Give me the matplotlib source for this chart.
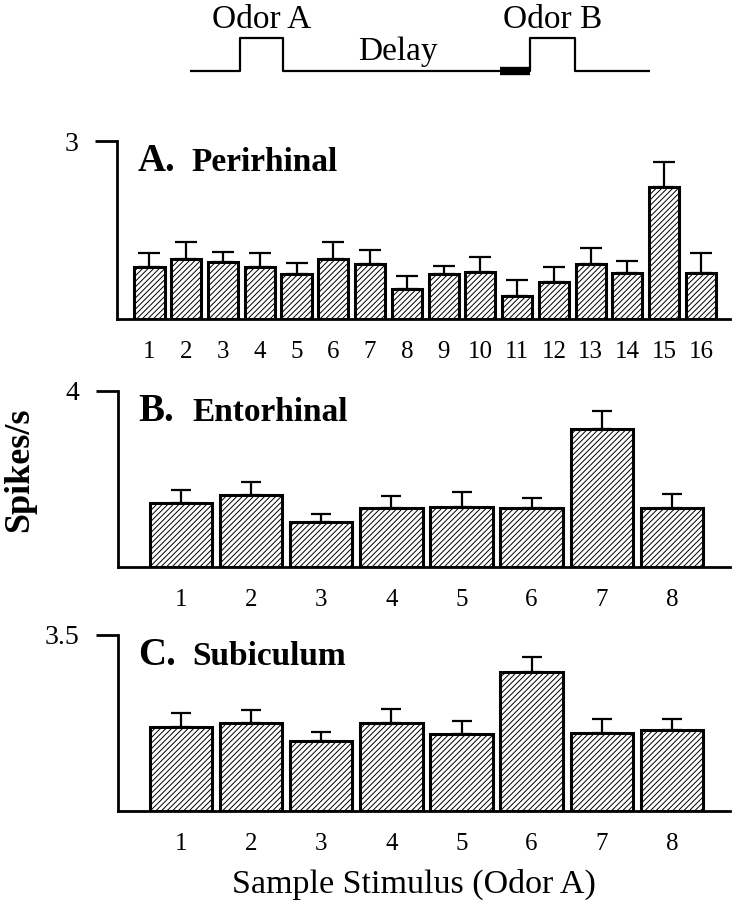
import matplotlib.pyplot as plt
import numpy as np

plt.rcParams['font.family'] = ['Liberation Serif', 'DejaVu Serif']
plt.rcParams['hatch.linewidth'] = 0.7

# ---- data
peri_stim = list(range(1, 17))
peri_mean = [0.88, 1.01, 0.96, 0.88, 0.76, 1.01, 0.92, 0.51,
             0.76, 0.80, 0.39, 0.62, 0.92, 0.77, 2.22, 0.78]
peri_sem = [0.23, 0.28, 0.17, 0.23, 0.18, 0.28, 0.25, 0.22,
            0.14, 0.25, 0.26, 0.25, 0.28, 0.20, 0.42, 0.33]

ento_stim = list(range(1, 9))
ento_mean = [1.46, 1.64, 1.03, 1.34, 1.37, 1.35, 3.13, 1.35]
ento_sem = [0.28, 0.30, 0.18, 0.27, 0.33, 0.22, 0.41, 0.31]

subi_stim = list(range(1, 9))
subi_mean = [1.67, 1.75, 1.40, 1.75, 1.53, 2.76, 1.55, 1.61]
subi_sem = [0.27, 0.26, 0.17, 0.28, 0.25, 0.30, 0.28, 0.22]

# trial schematic (arbitrary time units)
t_start, odorA_on, odorA_off = 0.0, 1.0, 1.85
cue_on, odorB_on, odorB_off, t_end = 6.2, 6.8, 7.7, 9.2

W, H = 742, 911
fig = plt.figure(figsize=(W / 100, H / 100), dpi=100)


def px_axes(left, top, right, bottom):
    return fig.add_axes([left / W, 1 - bottom / H, (right - left) / W, (bottom - top) / H])


# ======================== schematic
ax0 = px_axes(190, 5, 650, 85)
tx = [t_start, odorA_on, odorA_on, odorA_off, odorA_off, odorB_on, odorB_on, odorB_off, odorB_off, t_end]
ty = [0, 0, 1, 1, 0, 0, 1, 1, 0, 0]
ax0.plot(tx, ty, color='k', lw=1.6)
ax0.plot([cue_on, odorB_on], [0, 0], color='k', lw=6, solid_capstyle='butt')
ax0.text((odorA_on + odorA_off) / 2, 1.56, 'Odor A', ha='center', va='center', fontsize=24)
ax0.text((odorB_on + odorB_off) / 2, 1.56, 'Odor B', ha='center', va='center', fontsize=24)
ax0.text(4.16, 0.58, 'Delay', ha='center', va='center', fontsize=24)
ax0.set_xlim(t_start, t_end)
ax0.set_ylim(-0.44, 2.03)
ax0.axis('off')


# ======================== panels
def panel(ax, stim, mean, sem, ymax, ylab, letter, name, width, xlim, cap):
    ax.bar(stim, mean, width=width, color='white', edgecolor='k', lw=2.2, hatch='//////', zorder=2)
    ax.errorbar(stim, mean, yerr=[np.zeros(len(sem)), sem], fmt='none', ecolor='k',
                elinewidth=1.6, capsize=cap, capthick=1.6, zorder=1)
    ax.set_xlim(*xlim)
    ax.set_ylim(0, ymax)
    for s in ['top', 'right']:
        ax.spines[s].set_visible(False)
    for s in ['left', 'bottom']:
        ax.spines[s].set_linewidth(2)
    ax.set_yticks([ymax])
    ax.set_yticklabels([ylab], fontsize=20)
    ax.tick_params(axis='y', direction='out', length=16, width=2, pad=12)
    ax.set_xticks(stim)
    ax.set_xticklabels([str(s) for s in stim], fontsize=18)
    ax.tick_params(axis='x', length=0, pad=16)
    ax.text(0.033, 0.83, letter, transform=ax.transAxes, fontsize=28, fontweight='bold', va='baseline')
    ax.text(0.122, 0.83, name, transform=ax.transAxes, fontsize=24, fontweight='bold', va='baseline')


axA = px_axes(117, 141, 730, 319)
panel(axA, peri_stim, peri_mean, peri_sem, 3, '3', 'A.', 'Perirhinal', 0.82, (0.117, 16.79), 8)

axB = px_axes(118, 391, 730, 567)
panel(axB, ento_stim, ento_mean, ento_sem, 4, '4', 'B.', 'Entorhinal', 0.89, (0.10, 8.83), 7.5)

axC = px_axes(118, 635, 730, 811)
panel(axC, subi_stim, subi_mean, subi_sem, 3.5, '3.5', 'C.', 'Subiculum', 0.89, (0.10, 8.83), 7.5)

fig.text(20 / W, 1 - 470 / H, 'Spikes/s', rotation=90, ha='center', va='center',
         fontsize=26, fontweight='bold')
fig.text(414 / W, 1 - 884 / H, 'Sample Stimulus (Odor A)', ha='center', va='center', fontsize=24.5)

fig.savefig('out.png', dpi=100)
